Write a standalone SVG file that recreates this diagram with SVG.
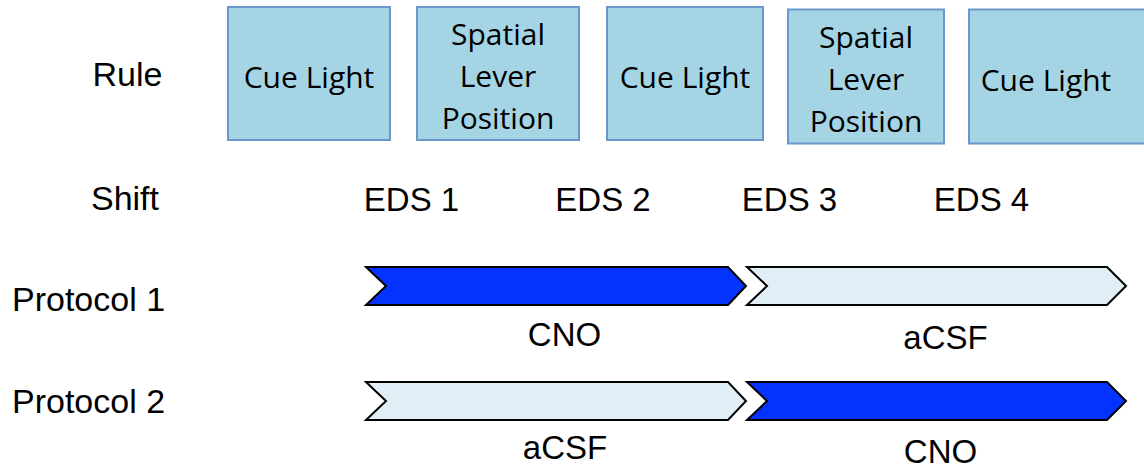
<svg xmlns="http://www.w3.org/2000/svg" width="1144" height="469" viewBox="0 0 1144 469">
<style>
.box{fill:#a5d5e4;stroke:#6b98cc;stroke-width:2}
.bt{font-family:"Open Sans",sans-serif;font-size:30px;fill:#000;text-anchor:middle}
.lb{font-family:"Liberation Sans",Arial,sans-serif;font-size:33px;fill:#000}
.pl{font-size:34px}
.c{text-anchor:middle}
.dark{fill:#0433ff;stroke:#000;stroke-width:2;stroke-linejoin:miter}
.light{fill:#e0eff6;stroke:#000;stroke-width:2;stroke-linejoin:miter}
</style>
<rect width="1144" height="469" fill="#fff"/>
<g id="labels">
<text class="lb c pl" x="127.5" y="86">Rule</text>
<text class="lb c pl" x="125" y="210">Shift</text>
<text class="lb pl" x="12" y="311">Protocol 1</text>
<text class="lb pl" x="12" y="413">Protocol 2</text>
<text class="lb c" x="411.5" y="211">EDS 1</text>
<text class="lb c" x="603" y="211">EDS 2</text>
<text class="lb c" x="789.5" y="211">EDS 3</text>
<text class="lb c" x="981.5" y="211">EDS 4</text>
</g>
<g id="rule1"><rect class="box" x="228" y="7" width="162" height="133"/><text class="bt" x="309" y="88">Cue Light</text></g>
<g id="rule2"><rect class="box" x="417" y="7" width="162" height="133"/><text class="bt" x="498" y="45">Spatial</text><text class="bt" x="498" y="87">Lever</text><text class="bt" x="498" y="129">Position</text></g>
<g id="rule3"><rect class="box" x="607" y="7" width="156" height="133"/><text class="bt" x="685" y="88">Cue Light</text></g>
<g id="rule4"><rect class="box" x="788" y="9.5" width="156" height="134"/><text class="bt" x="866" y="48">Spatial</text><text class="bt" x="866" y="90">Lever</text><text class="bt" x="866" y="132">Position</text></g>
<g id="rule5"><rect class="box" x="969" y="9.5" width="180" height="134"/><text class="bt" x="1046" y="91">Cue Light</text></g>
<g id="p1-cno"><polygon class="dark" points="366,267 728,267 746,286 728,305 366,305 386,286"/><text class="lb c" x="564.5" y="346">CNO</text></g>
<g id="p1-acsf"><polygon class="light" points="747,267 1107,267 1126,286 1107,305 747,305 767,286"/><text class="lb c" x="945.5" y="349">aCSF</text></g>
<g id="p2-acsf"><polygon class="light" points="366,382 728,382 746,401 728,420 366,420 386,401"/><text class="lb c" x="565" y="459">aCSF</text></g>
<g id="p2-cno"><polygon class="dark" points="747,382 1107,382 1126,401 1107,420 747,420 767,401"/><text class="lb c" x="940.5" y="463">CNO</text></g>
<g id="connectors"></g>
</svg>
